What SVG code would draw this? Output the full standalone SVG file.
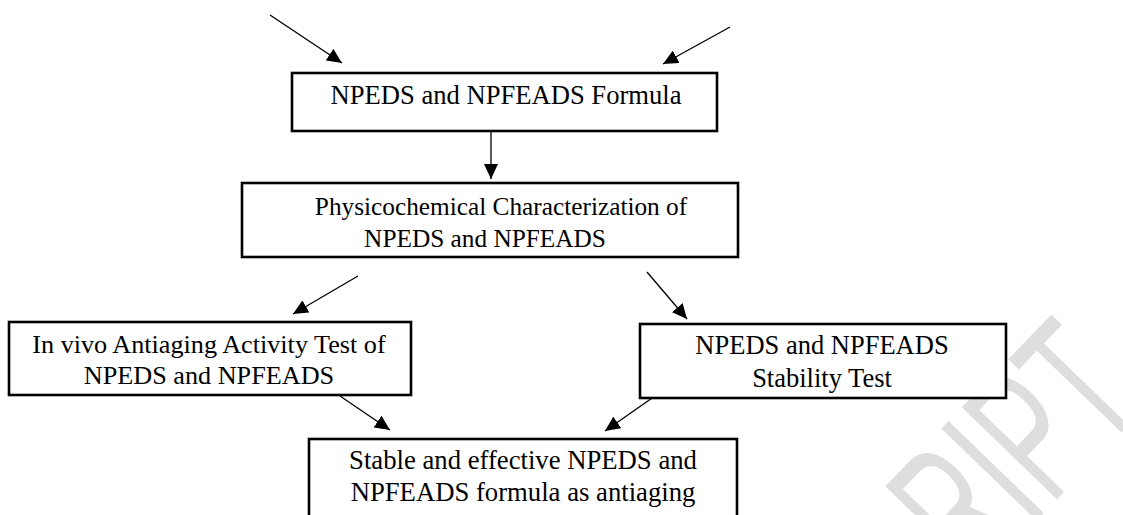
<svg xmlns="http://www.w3.org/2000/svg" width="1123" height="515" viewBox="0 0 1123 515">
<style>
.box{fill:#ffffff;stroke:#000000;stroke-width:2.6}
.t{font-family:"Liberation Serif","Times New Roman",serif;fill:#000000;text-anchor:middle}
.c{stroke:#000000;stroke-width:1.3;fill:none;marker-end:url(#ah)}
.wm{font-family:"Liberation Sans",Arial,sans-serif;fill:#dedede;text-anchor:end}
</style>
<defs>
<marker id="ah" markerUnits="userSpaceOnUse" markerWidth="15" markerHeight="14" refX="15" refY="7" orient="auto" viewBox="0 0 15 14">
<path d="M0,0 L15,7 L0,14 z" fill="#000000"/>
</marker>
</defs>
<rect width="1123" height="515" fill="#ffffff"/>
<g id="watermark">
<text class="wm" font-size="110" transform="translate(1148.4,404.6) rotate(-46) scale(1,1.75)" x="0" y="0">RIPT</text>
</g>
<g id="connectors">
<line class="c" x1="270" y1="15" x2="342" y2="63"/>
<line class="c" x1="730" y1="27" x2="663" y2="64"/>
<line class="c" x1="491" y1="131" x2="491" y2="179"/>
<line class="c" x1="358" y1="276" x2="293" y2="314"/>
<line class="c" x1="647" y1="272" x2="687" y2="319"/>
<line class="c" x1="340" y1="396" x2="390" y2="430"/>
<line class="c" x1="655" y1="396" x2="605" y2="431"/>
</g>
<g id="node-formula">
<rect class="box" x="292" y="73" width="425" height="58"/>
<text class="t" font-size="26.6" x="506" y="104">NPEDS and NPFEADS Formula</text>
</g>
<g id="node-physicochemical">
<rect class="box" x="242" y="183" width="496" height="74"/>
<text class="t" font-size="25.3" x="501" y="214.5">Physicochemical Characterization of</text>
<text class="t" font-size="25.3" x="485" y="247">NPEDS and NPFEADS</text>
</g>
<g id="node-invivo">
<rect class="box" x="9" y="322" width="402" height="73"/>
<text class="t" font-size="26.2" x="209" y="352.5">In vivo Antiaging Activity Test of</text>
<text class="t" font-size="26.2" x="209" y="384">NPEDS and NPFEADS</text>
</g>
<g id="node-stability">
<rect class="box" x="640" y="324" width="366" height="74"/>
<text class="t" font-size="26.5" x="822" y="354">NPEDS and NPFEADS</text>
<text class="t" font-size="26.5" x="822" y="387">Stability Test</text>
</g>
<g id="node-result">
<rect class="box" x="309" y="439" width="428" height="100"/>
<text class="t" font-size="26.7" x="523" y="468.5">Stable and effective NPEDS and</text>
<text class="t" font-size="26.7" x="523" y="501">NPFEADS formula as antiaging</text>
</g>
</svg>
